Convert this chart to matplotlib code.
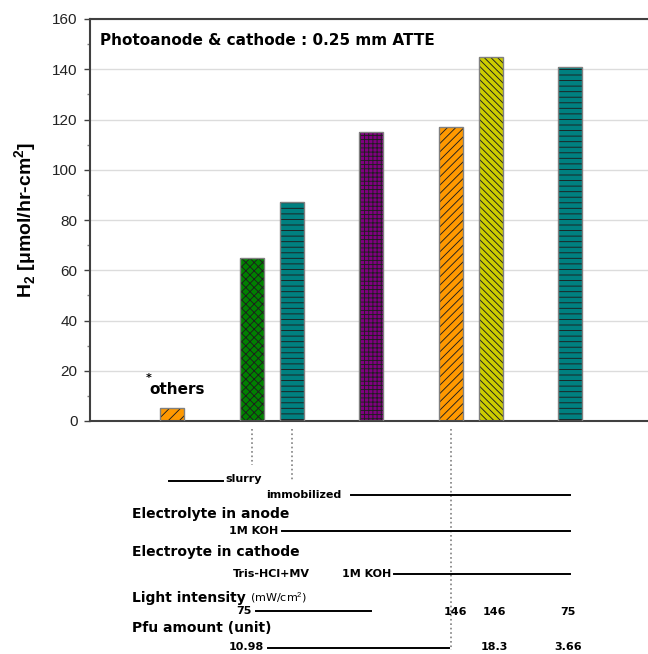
import matplotlib
matplotlib.use('Agg')
import matplotlib.pyplot as plt
import matplotlib.transforms as mtransforms
from matplotlib.ticker import MultipleLocator

plt.rcParams['font.family'] = 'DejaVu Sans'
plt.rcParams['mathtext.fontset'] = 'custom'
plt.rcParams['mathtext.rm'] = 'Liberation Sans'
plt.rcParams['mathtext.bf'] = 'Liberation Sans:bold'
plt.rcParams['hatch.linewidth'] = 0.65

# bar slots and H2 evolution rates
positions = [0, 2, 3, 5, 7, 8, 10]
h2_rates = [5, 65, 87, 115, 117, 145, 141]
bar_colors = ['#ff9900', '#008000', '#008080', '#800080', '#ff9900', '#cccc00', '#008080']
bar_hatches = ['///', 'xxxx', '---', '++++', '////', '\\\\\\\\\\', '---']

# condition rows under the chart
light_values = ['146', '146', '75']
light_slots = [7.1, 8.1, 9.95]
pfu_values = ['18.3', '3.66']
pfu_slots = [8.1, 9.95]
dotted_slots = [2, 3, 7]

fig = plt.figure(figsize=(6.48, 6.54), dpi=100)
ax = fig.add_axes([90 / 648, 1 - 421 / 654, 558 / 648, 402 / 654])

for x, h, c, hp in zip(positions, h2_rates, bar_colors, bar_hatches):
    ax.bar(x, h, width=0.6, color=c, edgecolor='#1e1e1e', hatch=hp, linewidth=0, zorder=2)
    ax.bar(x, h, width=0.6, fill=False, edgecolor='#808080', linewidth=1, zorder=3)

ax.set_xlim(-2.07, 11.95)
ax.set_ylim(0, 160)
ax.yaxis.set_major_locator(MultipleLocator(20))
ax.yaxis.set_minor_locator(MultipleLocator(10))
ax.set_xticks([])
ax.tick_params(axis='y', which='major', length=4, width=1, color='#404040', pad=5,
               labelsize=11, labelcolor='#222222', labelfontfamily='Liberation Sans')
ax.tick_params(axis='y', which='minor', length=2, width=1, color='#808080')
ax.grid(axis='y', color='#dcdcdc', linewidth=1)
ax.set_axisbelow(True)
for side in ['left', 'bottom', 'top']:
    ax.spines[side].set_color('#404040')
    ax.spines[side].set_linewidth(1.5)
ax.spines['right'].set_visible(False)

ax.set_ylabel(r'H$_{\mathbf{2}}$ [μmol/hr-cm$^{\mathbf{2}}$]', fontsize=14, fontweight='bold',
              family='Liberation Sans')
ax.yaxis.set_label_coords(-0.092, 0.5)

ax.text(0.0175, 0.965, 'Photoanode & cathode : 0.25 mm ATTE', transform=ax.transAxes,
        fontsize=11, fontweight='bold', ha='left', va='top')
ax.text(positions[0] + 0.13, h2_rates[0] + 7.5, 'others', fontsize=11, fontweight='bold',
        ha='center', va='center')
ax.text(positions[0] - 0.6, h2_rates[0] + 12, '*', fontsize=8, fontweight='bold',
        ha='center', va='center')

# x in bar slots, y in axes fraction below the plot
tr = mtransforms.blended_transform_factory(ax.transData, ax.transAxes)
small = dict(fontsize=8, fontweight='bold', transform=tr, va='center', clip_on=False)
head = dict(fontsize=10, fontweight='bold', transform=tr, va='center', ha='left', clip_on=False)
line = dict(color='black', linewidth=1.4, transform=tr, clip_on=False)

for s, y_end in zip(dotted_slots, [-0.1095, -0.1517, -0.5697]):
    ax.plot([s, s], [-0.02, y_end], color='#808080', linestyle=':', linewidth=1.2,
            transform=tr, clip_on=False)

ax.plot([-0.09, 1.27], [-0.1493, -0.1493], **line)
ax.text(1.34, -0.1443, 'slurry', ha='left', **small)
ax.text(2.35, -0.1853, 'immobilized', ha='left', **small)
ax.plot([4.49, 10], [-0.1853, -0.1853], **line)

ax.text(-1.02, -0.2313, 'Electrolyte in anode', **head)
ax.text(2.65, -0.2736, '1M KOH', ha='right', **small)
ax.plot([2.75, 10], [-0.2736, -0.2736], **line)

ax.text(-1.02, -0.3251, 'Electroyte in cathode', **head)
ax.text(1.52, -0.3794, 'Tris-HCl+MV', ha='left', **small)
ax.text(5.49, -0.3794, '1M KOH', ha='right', **small)
ax.plot([5.57, 10], [-0.3794, -0.3794], **line)

t = ax.text(-1.02, -0.4403, 'Light intensity', **head)
ax.annotate('(mW/cm$^2$)', xy=(1, 0.5), xycoords=t, xytext=(3, 0), textcoords='offset points',
            fontsize=8, va='center', ha='left', annotation_clip=False)
ax.text(2.0, -0.4726, '75', ha='right', **small)
ax.plot([2.1, 5.0], [-0.4726, -0.4726], **line)
for s, v in zip(light_slots, light_values):
    ax.text(s, -0.4751, v, ha='center', **small)

ax.text(-1.02, -0.5149, 'Pfu amount (unit)', **head)
ax.text(2.3, -0.5634, '10.98', ha='right', **small)
ax.plot([2.4, 6.95], [-0.5659, -0.5659], **line)
for s, v in zip(pfu_slots, pfu_values):
    ax.text(s, -0.5634, v, ha='center', **small)

fig.savefig('out.png', dpi=100)
